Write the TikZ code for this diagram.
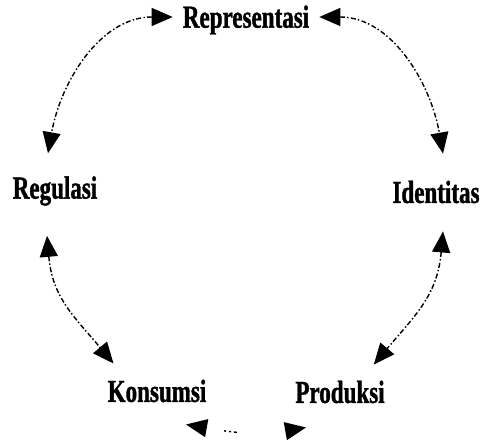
\documentclass[tikz,border=0pt]{standalone}
\usepackage{fontspec}
\newfontfamily\labelfont{Liberation Serif}[FakeStretch=0.72,FakeBold=1.2]
\usetikzlibrary{arrows.meta,calc}

\begin{document}
\begin{tikzpicture}[
    x=1pt, y=1pt,
    >={Triangle[length=21pt,width=18pt]},
    lbl/.style={font=\labelfont\bfseries\fontsize{32}{34}\selectfont, inner sep=0pt},
    link/.style={<->, line width=1.4pt, dash pattern=on 5pt off 2pt on 1.5pt off 2.5pt},
    faint/.style={<->, line width=1.4pt, dash pattern=on 0pt off 18pt on 2pt off 3pt on 2pt off 3pt on 3pt off 200pt},
]
\useasboundingbox (0,0) rectangle (482,446);

% labels
\node[lbl] (rep) at (246,426) {Representasi};
\node[lbl] (reg) at (55,255) {Regulasi};
\node[lbl] (ide) at (436,254) {Identitas};
\node[lbl] (kon) at (157,55) {Konsumsi};
\node[lbl] (pro) at (340,54) {Produksi};

% upper arcs
\draw[link] ($(rep.west)+(-10,3)$) to[out=180,in=80] ($(reg.north)+(-7,23)$);
\draw[link] ($(rep.east)+(10,3)$) to[out=0,in=100] ($(ide.north)+(7,27)$);

% lower arcs
\draw[link] ($(reg.south)+(-8,-30)$) to[out=-85,in=130,looseness=1.1] ($(kon.north west)+(6,16)$);
\draw[link] ($(ide.south)+(7,-28)$) to[out=-95,in=50,looseness=1.1] ($(pro.north east)+(-11,16)$);

% bottom
\draw[faint] ($(kon.south)+(29,-22)$) to[out=-10,in=190] ($(pro.south)+(-34,-24)$);

\end{tikzpicture}
\end{document}
